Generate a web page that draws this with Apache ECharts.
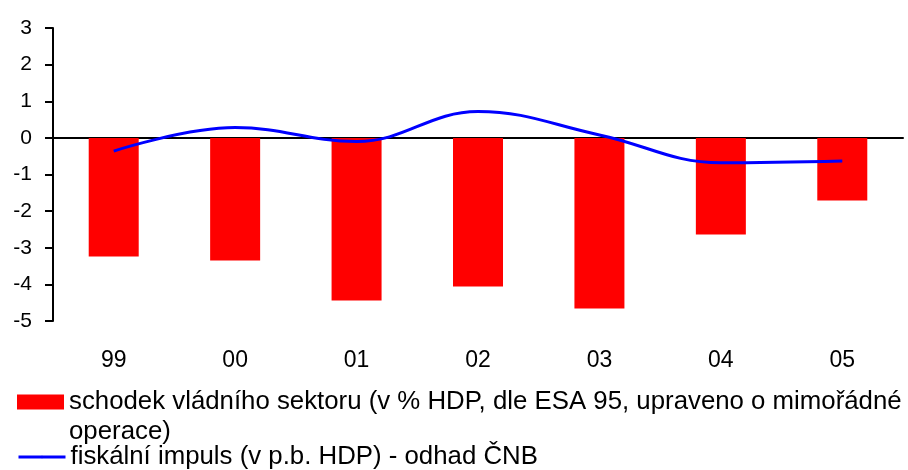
<!DOCTYPE html>
<html>
<head>
<meta charset="utf-8">
<script src="https://cdn.jsdelivr.net/npm/echarts@6/dist/echarts.min.js"></script>
<style>
  html, body { margin: 0; padding: 0; background: #fff; }
  #chart { width: 908px; height: 470px; }
</style>
</head>
<body>
<div id="chart"></div>
<script>
// roky (osa x)
var years = ["99", "00", "01", "02", "03", "04", "05"];
// schodek vladniho sektoru, % HDP
var deficit = [-3.24, -3.35, -4.44, -4.06, -4.66, -2.64, -1.71];
// fiskalni impuls, p.b. HDP
var impulse = [-0.36, 0.28, -0.1, 0.72, 0.08, -0.68, -0.63];
var yMin = -5, yMax = 3, yStep = 1;

var deficitName = "schodek vládního sektoru (v % HDP, dle ESA 95, upraveno o mimořádné operace)";
var impulseName = "fiskální impuls (v p.b. HDP) - odhad ČNB";

var font = "'Liberation Sans', Arial, sans-serif";

var chart = echarts.init(document.getElementById("chart"));
chart.setOption({
  backgroundColor: "#fff",
  animation: false,
  grid: { left: 53, right: 5, top: 28, bottom: 149 },
  legend: [
    {
      data: [deficitName],
      orient: "vertical",
      left: 17,
      top: 357,
      padding: 0,
      itemGap: 0,
      itemWidth: 47,
      itemHeight: 15,
      icon: "rect",
      // prazdny prvni radek, aby prvni radek textu sedel s ikonou
      formatter: function (name) {
        return "\n" + name.replace(" operace)", "\noperace)");
      },
      textStyle: {
        fontFamily: font,
        fontSize: 25.8,
        color: "#000",
        lineHeight: 30
      }
    },
    {
      data: [impulseName],
      orient: "vertical",
      left: 17,
      top: 442,
      padding: 0,
      itemWidth: 47,
      itemHeight: 3,
      lineStyle: { width: 3 },
      textStyle: {
        fontFamily: font,
        fontSize: 25.8,
        color: "#000",
        lineHeight: 30
      }
    }
  ],
  xAxis: [
    {
      type: "category",
      data: years,
      position: "bottom",
      axisLine: { show: false, onZero: false },
      axisTick: { show: false },
      axisLabel: { margin: 28, fontFamily: font, fontSize: 23, color: "#000" }
    },
    {
      type: "category",
      data: years,
      position: "top",
      axisLine: { show: true, onZero: true, lineStyle: { color: "#000", width: 2 } },
      axisTick: { show: false },
      axisLabel: { show: false }
    }
  ],
  yAxis: {
    type: "value",
    min: yMin,
    max: yMax,
    interval: yStep,
    axisLine: { show: true, onZero: false, lineStyle: { color: "#000", width: 2 } },
    axisTick: { show: true, length: 8, lineStyle: { color: "#000", width: 2 } },
    splitLine: { show: false },
    axisLabel: { margin: 21, fontFamily: font, fontSize: 21, color: "#000" }
  },
  series: [
    {
      name: deficitName,
      type: "bar",
      xAxisIndex: 0,
      data: deficit,
      barWidth: 50,
      itemStyle: { color: "#ff0000" }
    },
    {
      name: impulseName,
      type: "line",
      xAxisIndex: 0,
      data: impulse,
      smooth: 0.4,
      symbol: "none",
      z: 5,
      lineStyle: { color: "#0000ff", width: 3 },
      itemStyle: { color: "#0000ff" }
    }
  ]
});
</script>
</body>
</html>
